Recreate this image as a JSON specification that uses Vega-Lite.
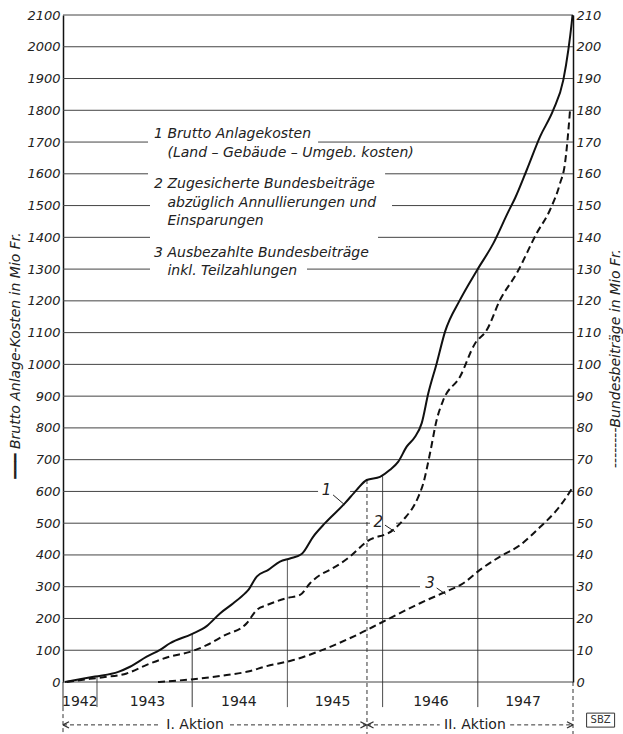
{
  "$schema": "https://vega.github.io/schema/vega-lite/v6.json",
  "width": 510,
  "height": 667,
  "autosize": {"type": "none"},
  "padding": {"left": 63, "top": 15, "right": 50, "bottom": 52},
  "background": "white",
  "config": {"view": {"stroke": null}, "font": "DejaVu Sans"},
  "datasets": {
    "grid": [
      {"g": 0, "xs": 1942.643, "xe": 1948},
      {"g": 100, "xs": 1942.643, "xe": 1948},
      {"g": 200, "xs": 1942.643, "xe": 1948},
      {"g": 300, "xs": 1942.643, "xe": 1946.393},
      {"g": 300, "xs": 1946.677, "xe": 1948},
      {"g": 400, "xs": 1942.643, "xe": 1948},
      {"g": 500, "xs": 1942.643, "xe": 1945.868},
      {"g": 500, "xs": 1946.141, "xe": 1948},
      {"g": 600, "xs": 1942.643, "xe": 1945.322},
      {"g": 600, "xs": 1945.658, "xe": 1948},
      {"g": 700, "xs": 1942.643, "xe": 1948},
      {"g": 800, "xs": 1942.643, "xe": 1948},
      {"g": 900, "xs": 1942.643, "xe": 1948},
      {"g": 1000, "xs": 1942.643, "xe": 1948},
      {"g": 1100, "xs": 1942.643, "xe": 1948},
      {"g": 1200, "xs": 1942.643, "xe": 1948},
      {"g": 1300, "xs": 1942.643, "xe": 1943.557},
      {"g": 1300, "xs": 1945.206, "xe": 1948},
      {"g": 1400, "xs": 1942.643, "xe": 1943.557},
      {"g": 1400, "xs": 1945.952, "xe": 1948},
      {"g": 1500, "xs": 1942.643, "xe": 1943.557},
      {"g": 1500, "xs": 1946.099, "xe": 1948},
      {"g": 1600, "xs": 1942.643, "xe": 1943.536},
      {"g": 1600, "xs": 1946.026, "xe": 1948},
      {"g": 1700, "xs": 1942.643, "xe": 1943.536},
      {"g": 1700, "xs": 1945.322, "xe": 1948},
      {"g": 1800, "xs": 1942.643, "xe": 1948},
      {"g": 1900, "xs": 1942.643, "xe": 1948},
      {"g": 2000, "xs": 1942.643, "xe": 1948},
      {"g": 2100, "xs": 1942.643, "xe": 1948}
    ],
    "vlines": [
      {"x": 1942.643, "top": 0, "bot": -79, "k": "solid"},
      {"x": 1942.643, "top": -79, "bot": -164, "k": "dashed"},
      {"x": 1943, "top": 17, "bot": -79, "k": "solid"},
      {"x": 1944, "top": 151, "bot": -79, "k": "solid"},
      {"x": 1945, "top": 386, "bot": -79, "k": "solid"},
      {"x": 1946, "top": 648, "bot": -79, "k": "solid"},
      {"x": 1947, "top": 1300, "bot": -79, "k": "solid"},
      {"x": 1948, "top": 0, "bot": -164, "k": "dashed"},
      {"x": 1945.836, "top": 636, "bot": -164, "k": "dashed"}
    ],
    "curve1": [
      {"t": 1942.664, "v": 0}, {"t": 1942.979, "v": 17}, {"t": 1943.224, "v": 32},
      {"t": 1943.347, "v": 48}, {"t": 1943.522, "v": 80}, {"t": 1943.662, "v": 101},
      {"t": 1943.767, "v": 122}, {"t": 1943.995, "v": 151}, {"t": 1944.152, "v": 176},
      {"t": 1944.292, "v": 216}, {"t": 1944.432, "v": 248}, {"t": 1944.555, "v": 279},
      {"t": 1944.59, "v": 290}, {"t": 1944.678, "v": 332}, {"t": 1944.8, "v": 353},
      {"t": 1944.922, "v": 379}, {"t": 1945.027, "v": 389}, {"t": 1945.15, "v": 403},
      {"t": 1945.272, "v": 458}, {"t": 1945.395, "v": 500}, {"t": 1945.605, "v": 563},
      {"t": 1945.728, "v": 605}, {"t": 1945.833, "v": 636}, {"t": 1945.973, "v": 646},
      {"t": 1946.078, "v": 668}, {"t": 1946.165, "v": 694}, {"t": 1946.253, "v": 741},
      {"t": 1946.341, "v": 772}, {"t": 1946.411, "v": 815}, {"t": 1946.48, "v": 909},
      {"t": 1946.568, "v": 1003}, {"t": 1946.656, "v": 1103}, {"t": 1946.813, "v": 1203},
      {"t": 1946.989, "v": 1295}, {"t": 1947.163, "v": 1381}, {"t": 1947.321, "v": 1481},
      {"t": 1947.391, "v": 1523}, {"t": 1947.514, "v": 1612}, {"t": 1947.654, "v": 1717},
      {"t": 1947.793, "v": 1801}, {"t": 1947.898, "v": 1895}, {"t": 1947.951, "v": 1990},
      {"t": 1947.986, "v": 2074}, {"t": 1947.995, "v": 2100}
    ],
    "curves23": [
      {"s": "2", "t": 1942.685, "v": 0}, {"s": "2", "t": 1942.927, "v": 1.0},
      {"s": "2", "t": 1943.066, "v": 1.5}, {"s": "2", "t": 1943.312, "v": 2.7},
      {"s": "2", "t": 1943.522, "v": 5.4}, {"s": "2", "t": 1943.767, "v": 8.0},
      {"s": "2", "t": 1943.977, "v": 9.5}, {"s": "2", "t": 1944.152, "v": 11.6},
      {"s": "2", "t": 1944.327, "v": 14.5}, {"s": "2", "t": 1944.573, "v": 18.5},
      {"s": "2", "t": 1944.678, "v": 22.7}, {"s": "2", "t": 1944.783, "v": 24.2},
      {"s": "2", "t": 1944.993, "v": 26.4}, {"s": "2", "t": 1945.133, "v": 27.4},
      {"s": "2", "t": 1945.238, "v": 31.1}, {"s": "2", "t": 1945.343, "v": 33.7},
      {"s": "2", "t": 1945.447, "v": 35.3}, {"s": "2", "t": 1945.658, "v": 39.5},
      {"s": "2", "t": 1945.833, "v": 44.2}, {"s": "2", "t": 1946.112, "v": 47.9},
      {"s": "2", "t": 1946.217, "v": 51.0}, {"s": "2", "t": 1946.375, "v": 58.3},
      {"s": "2", "t": 1946.428, "v": 62.6}, {"s": "2", "t": 1946.498, "v": 72},
      {"s": "2", "t": 1946.568, "v": 82.5}, {"s": "2", "t": 1946.638, "v": 88.8},
      {"s": "2", "t": 1946.813, "v": 96.1}, {"s": "2", "t": 1946.971, "v": 106.6},
      {"s": "2", "t": 1947.094, "v": 110.8}, {"s": "2", "t": 1947.234, "v": 120.3},
      {"s": "2", "t": 1947.409, "v": 128.7}, {"s": "2", "t": 1947.619, "v": 141.3},
      {"s": "2", "t": 1947.758, "v": 148.6}, {"s": "2", "t": 1947.864, "v": 157},
      {"s": "2", "t": 1947.916, "v": 163.3}, {"s": "2", "t": 1947.934, "v": 168},
      {"s": "2", "t": 1947.969, "v": 180.1},
      {"s": "3", "t": 1943.641, "v": 0}, {"s": "3", "t": 1944.012, "v": 0.9},
      {"s": "3", "t": 1944.363, "v": 2.2}, {"s": "3", "t": 1944.573, "v": 3.2},
      {"s": "3", "t": 1944.783, "v": 5.0}, {"s": "3", "t": 1945.062, "v": 6.9},
      {"s": "3", "t": 1945.343, "v": 9.8}, {"s": "3", "t": 1945.763, "v": 15.3},
      {"s": "3", "t": 1945.973, "v": 18.5}, {"s": "3", "t": 1946.393, "v": 24.8},
      {"s": "3", "t": 1946.638, "v": 28.1}, {"s": "3", "t": 1946.848, "v": 31.1},
      {"s": "3", "t": 1947.023, "v": 35.3}, {"s": "3", "t": 1947.234, "v": 39.5},
      {"s": "3", "t": 1947.444, "v": 43.1}, {"s": "3", "t": 1947.654, "v": 48.8},
      {"s": "3", "t": 1947.811, "v": 53.5}, {"s": "3", "t": 1947.926, "v": 58},
      {"s": "3", "t": 1947.99, "v": 61}
    ],
    "legendtext": [
      {"x": 1943.6, "y": 1713, "txt": "1 Brutto  Anlagekosten"},
      {"x": 1943.74, "y": 1653, "txt": "(Land – Gebäude – Umgeb. kosten)"},
      {"x": 1943.6, "y": 1555, "txt": "2 Zugesicherte  Bundesbeiträge"},
      {"x": 1943.74, "y": 1496, "txt": "abzüglich  Annullierungen  und"},
      {"x": 1943.74, "y": 1439, "txt": "Einsparungen"},
      {"x": 1943.6, "y": 1338, "txt": "3 Ausbezahlte  Bundesbeiträge"},
      {"x": 1943.74, "y": 1281, "txt": "inkl. Teilzahlungen"}
    ],
    "bottomtext": [
      {"x": 1942.82, "y": -64, "txt": "1942"},
      {"x": 1943.53, "y": -64, "txt": "1943"},
      {"x": 1944.49, "y": -64, "txt": "1944"},
      {"x": 1945.474, "y": -64, "txt": "1945"},
      {"x": 1946.508, "y": -64, "txt": "1946"},
      {"x": 1947.475, "y": -64, "txt": "1947"},
      {"x": 1944.03, "y": -135, "txt": "I. Aktion"},
      {"x": 1946.97, "y": -135, "txt": "II. Aktion"}
    ],
    "bracket": [
      {"a": 1942.643, "b": 1943.662, "y": -135},
      {"a": 1944.397, "b": 1945.836, "y": -135},
      {"a": 1945.836, "b": 1946.6, "y": -135},
      {"a": 1947.34, "b": 1948, "y": -135}
    ],
    "arrows": [
      {"x": 1942.643, "y": -135, "d": "l"},
      {"x": 1945.83, "y": -135, "d": "r"},
      {"x": 1945.842, "y": -135, "d": "l"},
      {"x": 1948, "y": -135, "d": "r"}
    ],
    "lab1": [{"x": 1945.41, "y": 605, "txt": "1"}],
    "lead1": [{"x": 1945.48, "y": 589, "x2": 1945.605, "y2": 557}],
    "lab23": [{"x": 1945.955, "y": 50.5, "txt": "2"}, {"x": 1946.498, "y": 31.1, "txt": "3"}],
    "lead23": [{"x": 1946.025, "y": 49.4, "x2": 1946.13, "y2": 47.3}, {"x": 1946.568, "y": 29.6, "x2": 1946.665, "y2": 27.6}],
    "sbz": [{"x": 1948.29, "y": -120, "txt": "SBZ"}]
  },
  "layer": [
    {
      "data": {"name": "grid"},
      "mark": {"type": "rule", "color": "#444", "strokeWidth": 1},
      "encoding": {
        "x": {"field": "xs", "type": "quantitative", "scale": {"domain": [1942.643, 1948], "nice": false, "zero": false}, "axis": null},
        "x2": {"field": "xe"},
        "y": {
          "field": "g", "type": "quantitative",
          "scale": {"domain": [0, 2100], "nice": false, "zero": false},
          "axis": {
            "orient": "left", "format": "d",
            "values": [0, 100, 200, 300, 400, 500, 600, 700, 800, 900, 1000, 1100, 1200, 1300, 1400, 1500, 1600, 1700, 1800, 1900, 2000, 2100],
            "domain": true, "domainColor": "#111", "domainWidth": 1.5,
            "ticks": false, "grid": false,
            "labelFont": "DejaVu Sans", "labelFontStyle": "italic", "labelFontSize": 13,
            "labelColor": "#222", "labelPadding": 3, "labelOverlap": false, "labelFlush": false,
            "title": "━━━  Brutto  Anlage-Kosten  in Mio Fr.",
            "titleFont": "DejaVu Sans", "titleFontStyle": "italic", "titleFontWeight": "normal",
            "titleFontSize": 14, "titleColor": "#222", "titleAngle": -90,
            "titleX": -48, "titleY": 340, "titleAlign": "center", "titleBaseline": "middle"
          }
        }
      }
    },
    {
      "data": {"name": "vlines"},
      "mark": {"type": "rule", "color": "#333", "strokeWidth": 1},
      "encoding": {
        "x": {"field": "x", "type": "quantitative", "axis": null},
        "y": {"field": "top", "type": "quantitative", "scale": {"domain": [0, 2100], "nice": false, "zero": false}, "axis": null},
        "y2": {"field": "bot"},
        "strokeDash": {"field": "k", "type": "nominal", "scale": {"domain": ["solid", "dashed"], "range": [[1, 0], [4, 3]]}, "legend": null}
      }
    },
    {
      "data": {"name": "curve1"},
      "mark": {"type": "line", "color": "#111", "strokeWidth": 2, "interpolate": "monotone"},
      "encoding": {
        "x": {"field": "t", "type": "quantitative", "axis": null},
        "y": {"field": "v", "type": "quantitative", "scale": {"domain": [0, 2100], "nice": false, "zero": false}, "axis": null}
      }
    },
    {
      "data": {"name": "legendtext"},
      "mark": {"type": "text", "align": "left", "baseline": "alphabetic", "fontStyle": "italic", "fontSize": 14, "color": "#222", "font": "DejaVu Sans"},
      "encoding": {
        "x": {"field": "x", "type": "quantitative", "axis": null},
        "y": {"field": "y", "type": "quantitative", "scale": {"domain": [0, 2100], "nice": false, "zero": false}, "axis": null},
        "text": {"field": "txt"}
      }
    },
    {
      "data": {"name": "bottomtext"},
      "mark": {"type": "text", "align": "center", "baseline": "middle", "fontSize": 14, "color": "#222", "font": "DejaVu Sans"},
      "encoding": {
        "x": {"field": "x", "type": "quantitative", "axis": null},
        "y": {"field": "y", "type": "quantitative", "scale": {"domain": [0, 2100], "nice": false, "zero": false}, "axis": null},
        "text": {"field": "txt"}
      }
    },
    {
      "data": {"name": "bracket"},
      "mark": {"type": "rule", "color": "#333", "strokeWidth": 1, "strokeDash": [4, 3]},
      "encoding": {
        "x": {"field": "a", "type": "quantitative", "axis": null},
        "x2": {"field": "b"},
        "y": {"field": "y", "type": "quantitative", "scale": {"domain": [0, 2100], "nice": false, "zero": false}, "axis": null}
      }
    },
    {
      "data": {"name": "arrows"},
      "mark": {"type": "point", "filled": false, "stroke": "#333", "strokeWidth": 1.2, "size": 16, "opacity": 1},
      "encoding": {
        "x": {"field": "x", "type": "quantitative", "axis": null},
        "y": {"field": "y", "type": "quantitative", "scale": {"domain": [0, 2100], "nice": false, "zero": false}, "axis": null},
        "shape": {"field": "d", "type": "nominal", "scale": {"domain": ["l", "r"], "range": ["M 0 0 L 3 -1.6 M 0 0 L 3 1.6", "M 0 0 L -3 -1.6 M 0 0 L -3 1.6"]}, "legend": null}
      }
    },
    {
      "data": {"name": "lab1"},
      "mark": {"type": "text", "align": "center", "baseline": "middle", "fontStyle": "italic", "fontSize": 15, "color": "#222", "font": "DejaVu Sans"},
      "encoding": {
        "x": {"field": "x", "type": "quantitative", "axis": null},
        "y": {"field": "y", "type": "quantitative", "scale": {"domain": [0, 2100], "nice": false, "zero": false}, "axis": null},
        "text": {"field": "txt"}
      }
    },
    {
      "data": {"name": "lead1"},
      "mark": {"type": "rule", "color": "#222", "strokeWidth": 1},
      "encoding": {
        "x": {"field": "x", "type": "quantitative", "axis": null},
        "y": {"field": "y", "type": "quantitative", "scale": {"domain": [0, 2100], "nice": false, "zero": false}, "axis": null},
        "x2": {"field": "x2"},
        "y2": {"field": "y2"}
      }
    },
    {
      "data": {"name": "sbz"},
      "mark": {"type": "point", "filled": false, "stroke": "#333", "strokeWidth": 1, "size": 196, "opacity": 1, "shape": "M -2 -1 L 2 -1 L 2 1 L -2 1 Z"},
      "encoding": {
        "x": {"field": "x", "type": "quantitative", "axis": null},
        "y": {"field": "y", "type": "quantitative", "scale": {"domain": [0, 2100], "nice": false, "zero": false}, "axis": null}
      }
    },
    {
      "data": {"name": "sbz"},
      "mark": {"type": "text", "align": "center", "baseline": "middle", "fontSize": 10, "color": "#333", "font": "DejaVu Sans"},
      "encoding": {
        "x": {"field": "x", "type": "quantitative", "axis": null},
        "y": {"field": "y", "type": "quantitative", "scale": {"domain": [0, 2100], "nice": false, "zero": false}, "axis": null},
        "text": {"field": "txt"}
      }
    },
    {
      "data": {"name": "curves23"},
      "mark": {"type": "line", "color": "#111", "strokeWidth": 2, "strokeDash": [7, 4], "interpolate": "monotone"},
      "encoding": {
        "x": {"field": "t", "type": "quantitative", "axis": null},
        "y": {
          "field": "v", "type": "quantitative",
          "scale": {"domain": [0, 210], "nice": false, "zero": false},
          "axis": {
            "orient": "right", "format": "d",
            "values": [0, 10, 20, 30, 40, 50, 60, 70, 80, 90, 100, 110, 120, 130, 140, 150, 160, 170, 180, 190, 200, 210],
            "domain": true, "domainColor": "#111", "domainWidth": 1.5,
            "ticks": false, "grid": false,
            "labelFont": "DejaVu Sans", "labelFontStyle": "italic", "labelFontSize": 13,
            "labelColor": "#222", "labelPadding": 3, "labelOverlap": false, "labelFlush": false,
            "title": "--------Bundesbeiträge  in Mio Fr.",
            "titleFont": "DejaVu Sans", "titleFontStyle": "italic", "titleFontWeight": "normal",
            "titleFontSize": 14, "titleColor": "#222", "titleAngle": -90,
            "titleX": 42, "titleY": 343, "titleAlign": "center", "titleBaseline": "middle"
          }
        },
        "detail": {"field": "s", "type": "nominal"}
      }
    },
    {
      "data": {"name": "lab23"},
      "mark": {"type": "text", "align": "center", "baseline": "middle", "fontStyle": "italic", "fontSize": 15, "color": "#222", "font": "DejaVu Sans"},
      "encoding": {
        "x": {"field": "x", "type": "quantitative", "axis": null},
        "y": {"field": "y", "type": "quantitative", "scale": {"domain": [0, 210], "nice": false, "zero": false}, "axis": null},
        "text": {"field": "txt"}
      }
    },
    {
      "data": {"name": "lead23"},
      "mark": {"type": "rule", "color": "#222", "strokeWidth": 1},
      "encoding": {
        "x": {"field": "x", "type": "quantitative", "axis": null},
        "y": {"field": "y", "type": "quantitative", "scale": {"domain": [0, 210], "nice": false, "zero": false}, "axis": null},
        "x2": {"field": "x2"},
        "y2": {"field": "y2"}
      }
    }
  ],
  "resolve": {"scale": {"y": "independent"}}
}
